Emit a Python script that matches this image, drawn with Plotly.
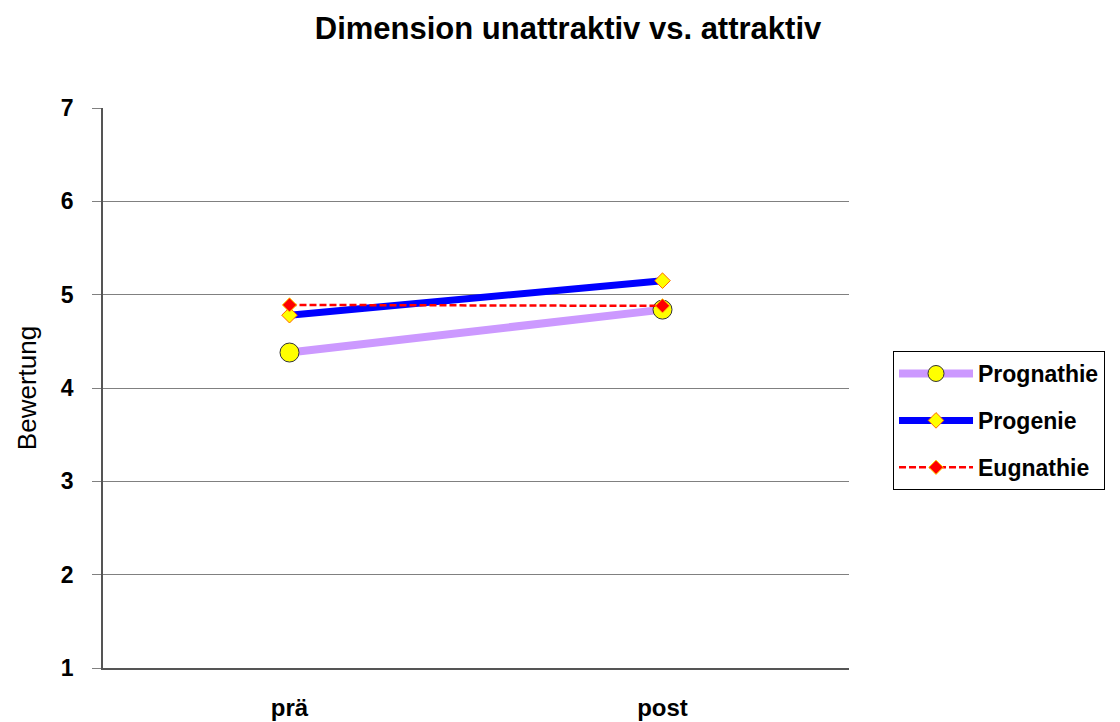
import plotly.graph_objects as go

# Categories and ratings per group
phases = ["prä", "post"]
prognathie = [4.38, 4.84]
progenie = [4.78, 5.15]
eugnathie = [4.89, 4.88]

y_ticks = [1, 2, 3, 4, 5, 6, 7]

font_family = "Liberation Sans, Arial, sans-serif"

fig = go.Figure()

fig.add_trace(go.Scatter(
    x=phases, y=prognathie, name="<b>Prognathie</b>", mode="lines+markers",
    legendgroup="a",
    line=dict(color="#CC99FF", width=8),
    marker=dict(symbol="circle", size=19, color="#FFFF00",
                line=dict(color="#333333", width=1)),
))
fig.add_trace(go.Scatter(
    x=phases, y=progenie, name="<b>Progenie</b>", mode="lines+markers",
    legendgroup="b",
    line=dict(color="#0000FF", width=7),
    marker=dict(symbol="diamond", size=12, color="#FFFF00",
                line=dict(color="#FF6600", width=1)),
))
fig.add_trace(go.Scatter(
    x=phases, y=eugnathie, name="<b>Eugnathie</b>", mode="lines+markers",
    legendgroup="c",
    line=dict(color="#FF0000", width=2.5, dash="7px,3px"),
    marker=dict(symbol="diamond", size=11, color="#FF0000",
                line=dict(color="#FFD700", width=1)),
))

fig.update_layout(
    width=1120, height=722,
    margin=dict(l=103, r=271, t=108, b=54),
    paper_bgcolor="white", plot_bgcolor="white",
    font=dict(family=font_family, color="black"),
    title=dict(text="<b>Dimension unattraktiv vs. attraktiv</b>",
               x=568 / 1120, xanchor="center", y=1 - 28 / 722, yanchor="middle",
               font=dict(size=31, family=font_family, color="black")),
    showlegend=True,
    legend=dict(
        x=1.059, xanchor="left", y=0.566, yanchor="top",
        bgcolor="white", bordercolor="black", borderwidth=1,
        font=dict(size=23, family=font_family, color="black"),
        itemwidth=74, tracegroupgap=14,
    ),
)

fig.update_xaxes(
    type="category", range=[-0.5, 1.5], automargin=False,
    showgrid=False, showline=True, linecolor="#555555", linewidth=1.5,
    ticks="", ticklabelstandoff=17,
    tickfont=dict(size=24, family=font_family, color="black"),
    tickprefix="<b>", ticksuffix="</b>",
)

fig.update_yaxes(
    range=[1, 7], tickvals=y_ticks, automargin=False,
    ticktext=[f"<b>{v}</b>" for v in y_ticks],
    showgrid=True, gridcolor="#808080", gridwidth=1,
    showline=True, linecolor="#555555", linewidth=1.5,
    ticks="outside", ticklen=9, tickcolor="#808080",
    ticklabelstandoff=14,
    tickfont=dict(size=23, family=font_family, color="black"),
    title=dict(text="Bewertung", standoff=17,
               font=dict(size=26, family=font_family, color="black")),
    zeroline=False,
)

fig.write_html("out.html")
